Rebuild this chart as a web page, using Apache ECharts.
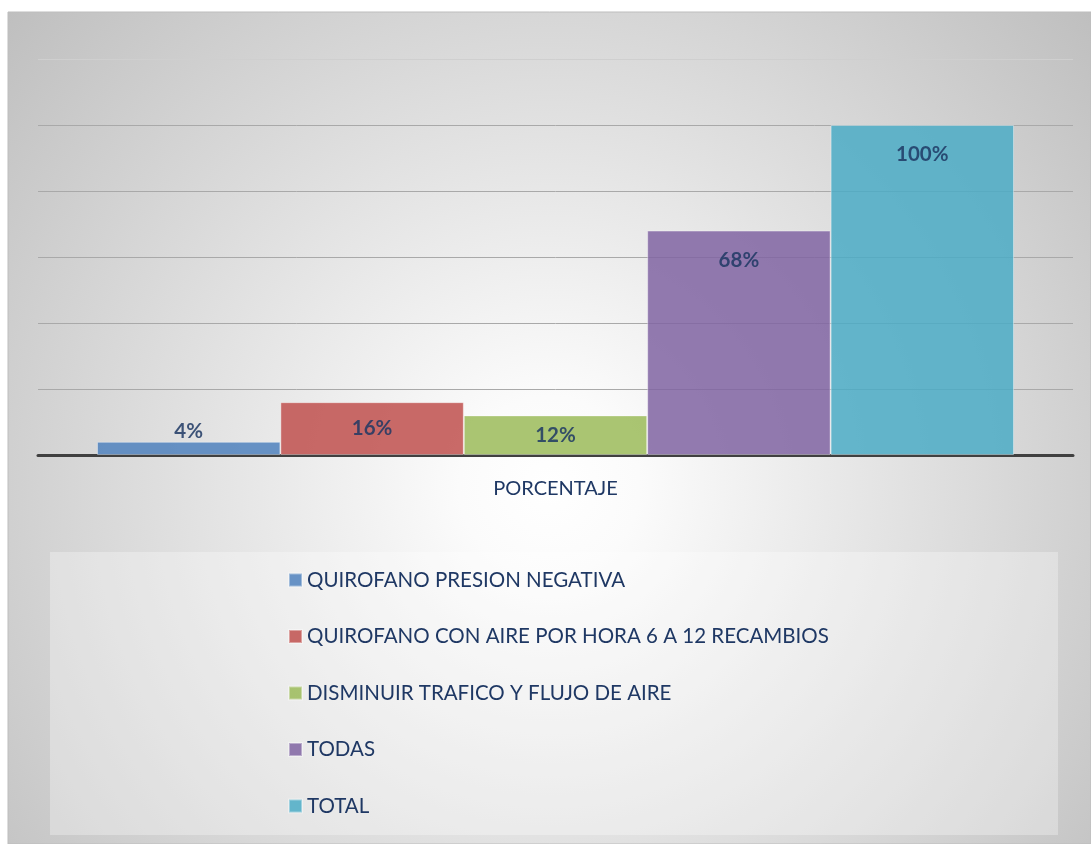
<!DOCTYPE html>
<html>
<head>
<meta charset="utf-8">
<script src="https://cdn.jsdelivr.net/npm/echarts@6/dist/echarts.min.js"></script>
<style>
  html, body { margin: 0; padding: 0; background: #fff; }
  #main { width: 1091px; height: 844px; }
</style>
</head>
<body>
<div id="main"></div>
<script>
// datos del grafico
const categories = ['PORCENTAJE'];
const seriesNames = [
  'QUIROFANO PRESION NEGATIVA',
  'QUIROFANO CON AIRE POR HORA 6 A 12 RECAMBIOS',
  'DISMINUIR TRAFICO Y FLUJO DE AIRE',
  'TODAS',
  'TOTAL'
];
const seriesValues = [4, 16, 12, 68, 100];
const seriesColors = ['#4F81BD', '#C0504D', '#9BBB59', '#8064A2', '#4BACC6'];

const textColor = '#1f3864';
const fontFamily = 'Lato, "Open Sans", sans-serif';

const chart = echarts.init(document.getElementById('main'));

// posicion de la etiqueta segun el tamano de la barra
function labelFor(v) {
  if (v >= 50) return { position: 'insideTop', distance: 19 };
  if (v >= 10) return { position: 'inside', distance: 0 };
  return { position: 'top', distance: 0 };
}

const series = seriesNames.map((name, i) => {
  const lp = labelFor(seriesValues[i]);
  return {
    name: name,
    type: 'bar',
    barWidth: 183.4,
    barGap: '0%',
    data: [seriesValues[i]],
    itemStyle: {
      color: seriesColors[i],
      opacity: 0.85,
      borderColor: 'rgba(255,255,255,0.45)',
      borderWidth: 1
    },
    label: {
      show: true,
      position: lp.position,
      distance: lp.distance,
      formatter: '{c}%',
      color: textColor,
      fontFamily: fontFamily,
      fontWeight: 'bold',
      fontSize: 20.5
    }
  };
});

const option = {
  animation: false,
  graphic: [
    {
      type: 'rect',
      z: -10,
      silent: true,
      shape: { x: 8, y: 12, width: 1083, height: 832 },
      style: {
        fill: new echarts.graphic.RadialGradient(0.5, 0.57, 0.9, [
          { offset: 0, color: '#ffffff' },
          { offset: 0.12, color: '#fbfbfb' },
          { offset: 1, color: '#bcbcbc' }
        ]),
        stroke: '#bdbdbd',
        lineWidth: 1
      }
    },
    {
      type: 'rect',
      z: -9,
      silent: true,
      shape: { x: 50, y: 552, width: 1008, height: 283 },
      style: { fill: 'rgba(255,255,255,0.3)' }
    }
  ],
  grid: { left: 38, right: 18, top: 59, bottom: 389 },
  legend: {
    orient: 'vertical',
    left: 288,
    top: 569,
    padding: 0,
    itemWidth: 13,
    itemHeight: 13,
    itemGap: 34.5,
    icon: 'rect',
    textStyle: {
      color: textColor,
      fontFamily: fontFamily,
      fontSize: 20.5,
      lineHeight: 22
    },
    data: seriesNames
  },
  xAxis: {
    type: 'category',
    data: categories,
    axisLine: { lineStyle: { color: '#404040', width: 3 } },
    axisTick: { show: false },
    axisLabel: {
      color: textColor,
      fontFamily: fontFamily,
      fontSize: 20,
      margin: 24
    }
  },
  yAxis: {
    type: 'value',
    min: 0,
    max: 120,
    interval: 20,
    axisLabel: { show: false },
    axisLine: { show: false },
    axisTick: { show: false },
    splitLine: {
      lineStyle: {
        color: ['#a9a9a9', '#a9a9a9', '#a9a9a9', '#a9a9a9', '#a9a9a9', '#a9a9a9', '#cfcfcf'],
        width: 1
      }
    }
  },
  series: series
};

chart.setOption(option);
</script>
</body>
</html>
